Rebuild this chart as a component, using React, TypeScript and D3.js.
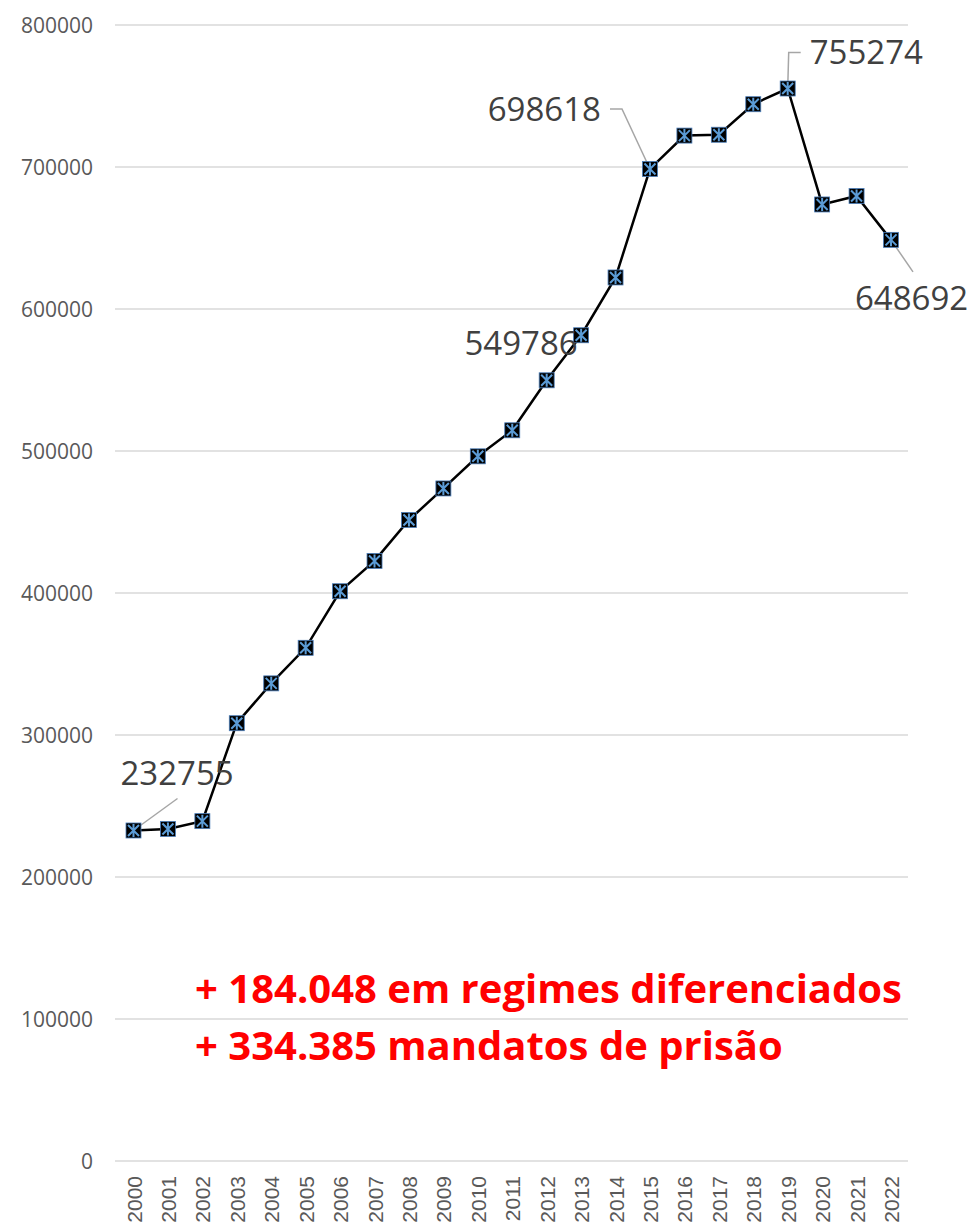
import React, { useEffect, useRef } from 'react';
import * as d3 from 'd3';

const years = ['2000', '2001', '2002', '2003', '2004', '2005', '2006', '2007', '2008', '2009', '2010', '2011',
  '2012', '2013', '2014', '2015', '2016', '2017', '2018', '2019', '2020', '2021', '2022'];
const presos = [232755, 233859, 239345, 308304, 336358, 361402, 401236, 422590, 451429, 473626, 496251, 514582,
  549786, 581507, 622202, 698618, 722120, 722716, 744216, 755274, 673614, 679577, 648692];
const yTicks = [0, 100000, 200000, 300000, 400000, 500000, 600000, 700000, 800000];
const labelled = ['2000', '2012', '2015', '2019', '2022'];
const notes = ['+ 184.048 em regimes diferenciados', '+ 334.385 mandatos de prisão'];

const App = () => {
  const ref = useRef<SVGSVGElement>(null);

  useEffect(() => {
    const svg = d3.select(ref.current);
    svg.selectAll('*').remove();

    const x = d3.scalePoint().domain(years).range([133.5, 891]);
    const y = d3.scaleLinear().domain([0, 800000]).range([1161, 25]);

    // grid
    svg.append('g')
      .selectAll('line')
      .data(yTicks)
      .join('line')
      .attr('x1', 115)
      .attr('x2', 908)
      .attr('y1', (d) => y(d))
      .attr('y2', (d) => y(d))
      .attr('stroke', '#d9d9d9')
      .attr('stroke-width', 1.3);

    svg.append('g')
      .selectAll('text')
      .data(yTicks)
      .join('text')
      .attr('x', 93)
      .attr('y', (d) => y(d) + 7.5)
      .attr('text-anchor', 'end')
      .attr('font-family', 'Open Sans, sans-serif')
      .attr('font-size', 21)
      .attr('fill', '#595959')
      .text((d) => d);

    svg.append('g')
      .selectAll('text')
      .data(years)
      .join('text')
      .attr('transform', (d) => `translate(${x(d)! + 8},1176) rotate(-90)`)
      .attr('text-anchor', 'end')
      .attr('font-family', 'Liberation Sans, Arial, sans-serif')
      .attr('font-size', 21)
      .attr('fill', '#595959')
      .text((d) => d);

    // leader lines
    const leaders: Record<string, [number, number][]> = {
      '2000': [[0, 0], [44, -32]],
      '2015': [[0, 0], [-28, -60], [-40, -60]],
      '2019': [[0, 0], [1, -36], [13, -36]],
      '2022': [[0, 0], [22, 32]],
    };
    Object.entries(leaders).forEach(([yr, pts]) => {
      const i = years.indexOf(yr);
      const px = x(yr)!;
      const py = y(presos[i]);
      svg.append('path')
        .attr('d', d3.line()(pts.map(([dx, dy]) => [px + dx, py + dy])))
        .attr('fill', 'none')
        .attr('stroke', '#a6a6a6')
        .attr('stroke-width', 1.5);
    });

    const line = d3.line<number>()
      .x((_, i) => x(years[i])!)
      .y((d) => y(d));
    svg.append('path')
      .attr('d', line(presos))
      .attr('fill', 'none')
      .attr('stroke', '#000')
      .attr('stroke-width', 2.5);

    const pts = svg.append('g')
      .selectAll('g')
      .data(presos)
      .join('g')
      .attr('transform', (d, i) => `translate(${x(years[i])},${y(d)})`);
    pts.append('rect')
      .attr('x', -7.5).attr('y', -7.5).attr('width', 15).attr('height', 15)
      .attr('fill', '#000').attr('stroke', '#4a7ebb').attr('stroke-width', 0.8);
    pts.append('path')
      .attr('d', 'M-5.5,-5.5L5.5,5.5M-5.5,5.5L5.5,-5.5M0,-6.5L0,6.5')
      .attr('stroke', '#5b9bd5')
      .attr('stroke-width', 2);

    // data labels
    const labelPos: Record<string, [number, number, string]> = {
      '2000': [-13, -45, 'start'],
      '2012': [31, -25, 'end'],
      '2015': [-49, -48, 'end'],
      '2019': [22, -25, 'start'],
      '2022': [-36, 70, 'start'],
    };
    svg.append('g')
      .selectAll('text')
      .data(labelled)
      .join('text')
      .attr('x', (d) => x(d)! + labelPos[d][0])
      .attr('y', (d) => y(presos[years.indexOf(d)]) + labelPos[d][1])
      .attr('text-anchor', (d) => labelPos[d][2])
      .attr('font-family', 'Open Sans, sans-serif')
      .attr('font-size', 33)
      .attr('fill', '#404040')
      .text((d) => presos[years.indexOf(d)]);

    svg.append('g')
      .selectAll('text')
      .data(notes)
      .join('text')
      .attr('x', 195)
      .attr('y', (d, i) => 1003 + i * 57)
      .attr('font-family', 'Open Sans, sans-serif')
      .attr('font-weight', 'bold')
      .attr('font-size', 40)
      .attr('fill', '#ff0000')
      .text((d) => d);
  }, []);

  return (
    <svg ref={ref} width={973} height={1225} style={{ position: 'absolute', left: 0, top: 0 }} />
  );
};

export default App;
